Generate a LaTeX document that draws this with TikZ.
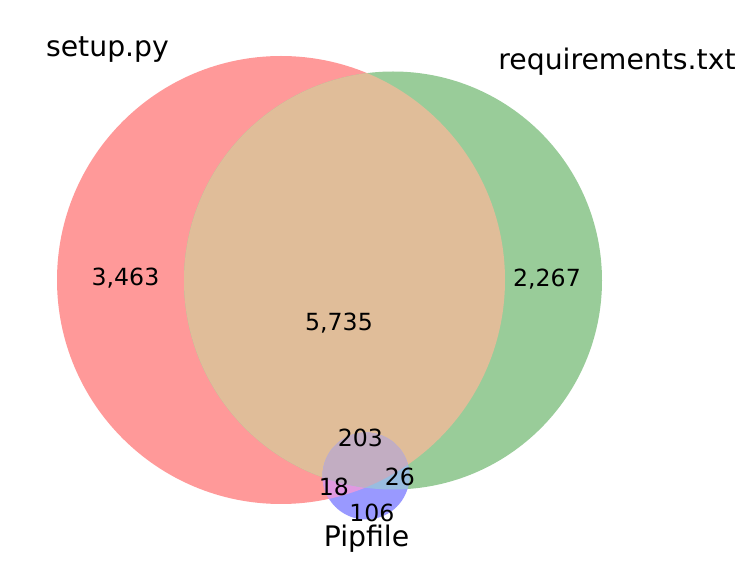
\documentclass[tikz,border=0pt]{standalone}
\usepackage{fontspec}
\setmainfont{DejaVu Sans}
\definecolor{cR}{RGB}{255,153,153}
\definecolor{cG}{RGB}{153,204,153}
\definecolor{cB}{RGB}{153,153,255}
\definecolor{cRG}{RGB}{224,189,153}
\definecolor{cRB}{RGB}{224,153,224}
\definecolor{cGB}{RGB}{153,189,224}
\definecolor{cRGB}{RGB}{194,173,194}
\begin{document}
\begin{tikzpicture}[x=1pt,y=-1pt,
  setlabel/.style={anchor=base,inner sep=0pt,font=\fontsize{28.3}{30}\selectfont},
  numlabel/.style={anchor=base,inner sep=0pt,font=\fontsize{23.6}{26}\selectfont}]
\useasboundingbox[fill=white] (0,0) rectangle (748,577);
\def\red{(281,280) circle[radius=224]}
\def\green{(393,280.5) circle[radius=209]}
\def\blue{(366,476) circle[radius=43.5]}
\fill[cR] \red;
\fill[cG] \green;
\fill[cB] \blue;
\begin{scope}\clip \red; \fill[cRG] \green; \end{scope}
\begin{scope}\clip \red; \fill[cRB] \blue; \end{scope}
\begin{scope}\clip \green; \fill[cGB] \blue; \end{scope}
\begin{scope}\clip \red; \clip \green; \fill[cRGB] \blue; \end{scope}
\node[setlabel] (lA) at (107.5,57) {setup.py};
\node[setlabel] (lB) at (617,70) {requirements.txt};
\node[setlabel] (lC) at (366.5,547) {Pipfile};
\node[numlabel] (n100) at (125.5,285.5) {3,463};
\node[numlabel] (n010) at (547,286.5) {2,267};
\node[numlabel] (n110) at (339,330.5) {5,735};
\node[numlabel] (n111) at (360.5,446.7) {203};
\node[numlabel] (n011) at (400,485.7) {26};
\node[numlabel] (n101) at (334,496) {18};
\node[numlabel] (n001) at (372,521.5) {106};
\end{tikzpicture}
\end{document}
